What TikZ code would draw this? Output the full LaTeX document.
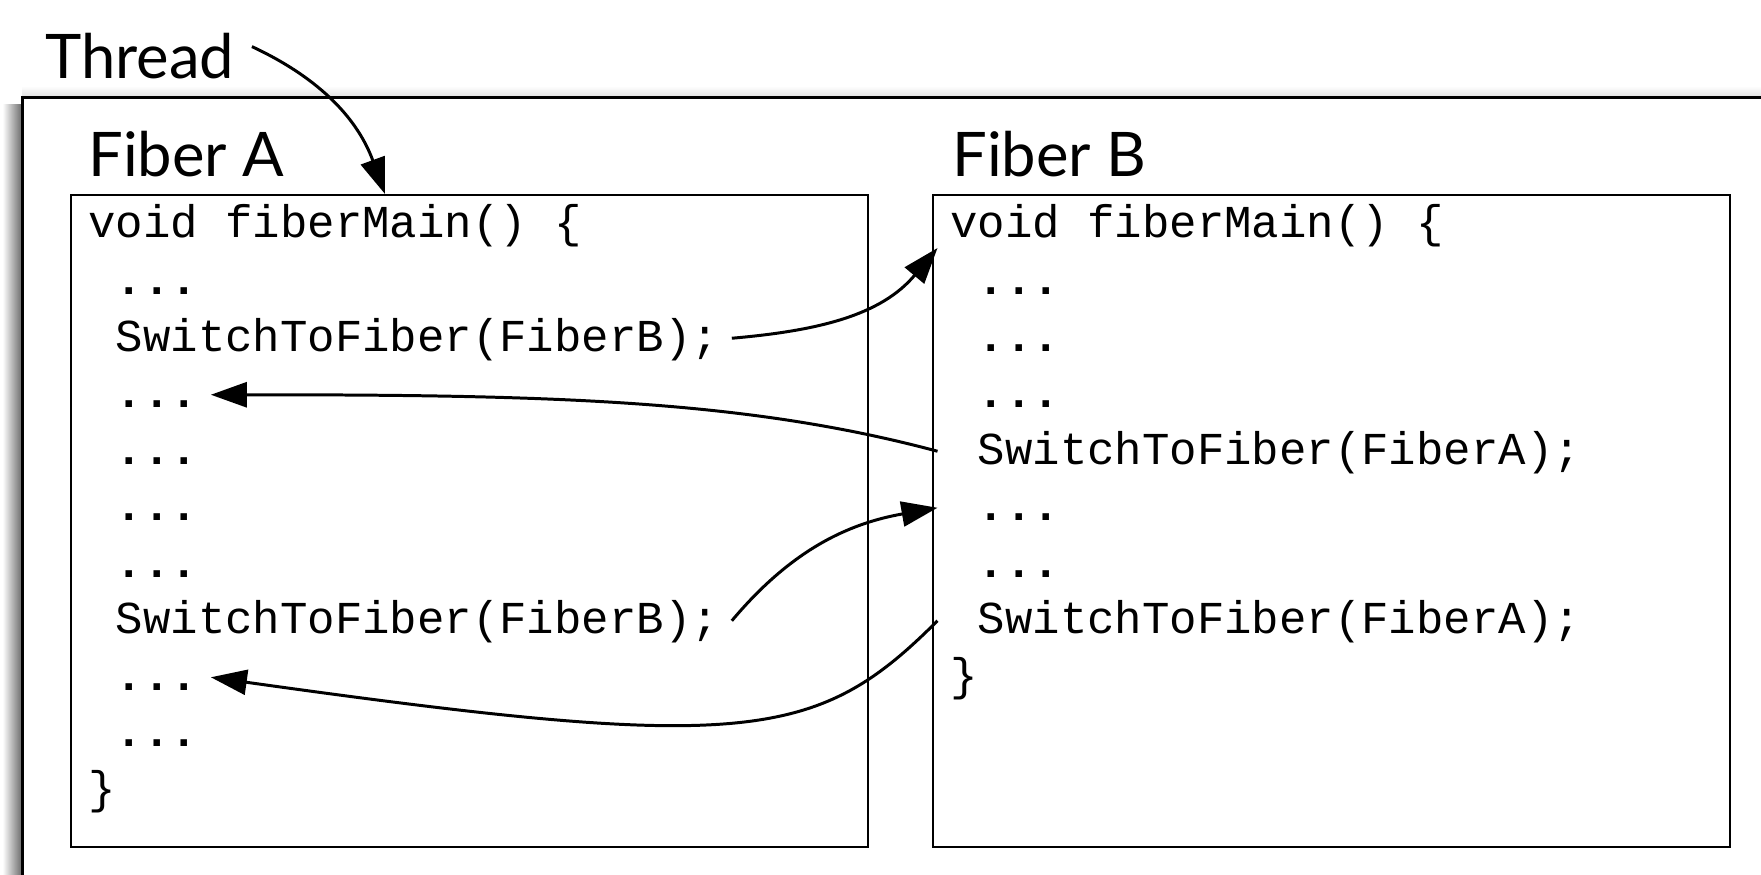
\documentclass[tikz,border=0pt]{standalone}
\usepackage{fontspec}
\setmainfont{Lato}
\setmonofont{Liberation Mono}
\usetikzlibrary{arrows.meta}

\newcommand{\omitted}{\ {\bfseries ...}}

\tikzset{
  heading/.style={font=\fontsize{35}{40}\selectfont, anchor=base west, inner sep=0pt},
  codeline/.style={font=\fontsize{26}{30}\selectfont\ttfamily, anchor=base west,
                   inner xsep=0.25cm, inner ysep=0pt, text height=20pt, text depth=5.5pt},
  fiberbox/.style={draw, line width=1.4pt, anchor=north west,
                   minimum width=15.93cm, minimum height=13.04cm},
  jump/.style={line width=1.7pt, -{Triangle[length=0.72cm, width=0.5cm]}},
}

\begin{document}
\begin{tikzpicture}
  \useasboundingbox (0,0) rectangle (35.22,-17.5);
  \clip (0,0) rectangle (35.22,-17.5);

  % ---- スレッドの外枠（左上に影） ----
  \shade[left color=white, right color=black!60] (0.05,-2.1) rectangle (0.45,-18);
  \shade[top color=white, bottom color=black!12] (0.45,-1.72) rectangle (36,-1.95);
  \draw[line width=2pt, fill=white] (0.45,-1.95) rectangle (36,-18);

  % ---- 見出し ----
  \node[heading] (thread) at (0.90,-1.58) {Thread};
  \node[heading] (titleA) at (1.76,-3.54) {Fiber A};
  \node[heading] (titleB) at (19.04,-3.54) {Fiber B};

  % ---- ファイバーの枠 ----
  \node[fiberbox] (boxA) at (1.40,-3.88) {};
  \node[fiberbox] (boxB) at (18.64,-3.88) {};
  \coordinate (entry) at (7.70,-3.88);

  % ---- コード（1 行 = 1 ノード, a1..a11 / b1..b9） ----
  \foreach \t [count=\i] in {void fiberMain() \{, \omitted, \ SwitchToFiber(FiberB);,
      \omitted, \omitted, \omitted, \omitted, \ SwitchToFiber(FiberB);,
      \omitted, \omitted, \}}{%
    \node[codeline] (a\i) at (1.51, -4.76-1.13*\i+1.13) {\t};
  }
  \foreach \t [count=\i] in {void fiberMain() \{, \omitted, \omitted, \omitted,
      \ SwitchToFiber(FiberA);, \omitted, \omitted, \ SwitchToFiber(FiberA);, \}}{%
    \node[codeline] (b\i) at (18.75, -4.76-1.13*\i+1.13) {\t};
  }

  % ---- 切り替えの矢印 ----
  \draw[jump] ([xshift=0.35cm, yshift=0.2cm]thread.east) to[out=-25, in=110] (entry);
  \draw[jump] (a3.east) to[out=5, in=230] (b1.south west);
  \draw[jump] (b5.west) to[out=165, in=0, out looseness=0.7, in looseness=1.2] (a4.east);
  \draw[jump] (a8.east) to[out=50, in=190] (b6.west);
  \draw[jump] (b8.west) to[out=225, in=-8, out looseness=0.6, in looseness=1.9] (a9.east);
\end{tikzpicture}
\end{document}
